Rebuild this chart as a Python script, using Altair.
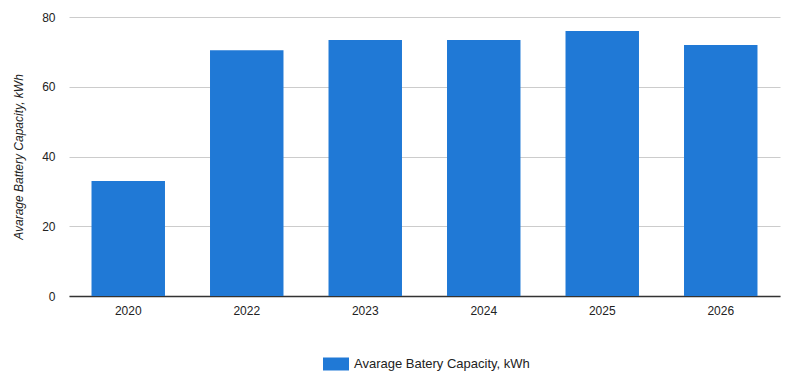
import altair as alt
import pandas as pd

years = ["2020", "2022", "2023", "2024", "2025", "2026"]
capacity = [33.0, 70.5, 73.4, 73.4, 76.0, 72.0]
series = ["Avarage Batery Capacity, kWh"] * len(years)

df = pd.DataFrame({"year": years, "capacity": capacity, "series": series})

chart = alt.Chart(df).mark_bar(color="#2079d6").encode(
    x=alt.X("year:N", sort=years, title=None,
            scale=alt.Scale(paddingInner=0.38, paddingOuter=0.19),
            axis=alt.Axis(labelAngle=0, labelFont="Liberation Sans", labelFontSize=12,
                          labelColor="#222", ticks=False, domain=True, domainColor="#333",
                          domainWidth=1.5, labelPadding=9, grid=False)),
    y=alt.Y("capacity:Q", title="Avarage Battery Capacity, kWh",
            scale=alt.Scale(domain=[0, 80]),
            axis=alt.Axis(values=[0, 20, 40, 60, 80], grid=True, gridColor="#cccccc",
                          domain=False, ticks=False, labelFont="Liberation Sans",
                          labelFontSize=12, labelColor="#222", labelPadding=14,
                          titleFont="Liberation Sans", titleFontSize=12,
                          titleFontStyle="italic", titleFontWeight="normal",
                          titleColor="#222", titlePadding=16)),
    color=alt.Color("series:N", scale=alt.Scale(range=["#2079d6"]),
                    legend=alt.Legend(title=None, orient="none", legendX=254, legendY=334,
                                      symbolType="M-1,-0.5H1V0.5H-1Z", symbolSize=676,
                                      symbolStrokeWidth=0, symbolOpacity=1,
                                      labelFont="Liberation Sans", labelFontSize=13,
                                      labelColor="#222", labelOffset=5, labelLimit=0)),
).properties(
    width=711, height=279,
    autosize=alt.AutoSizeParams(type="none"),
    padding={"left": 61, "top": 9, "right": 19, "bottom": 84},
).configure_view(stroke=None)

chart.save("out.html", embed_options={"renderer": "svg", "actions": False})
